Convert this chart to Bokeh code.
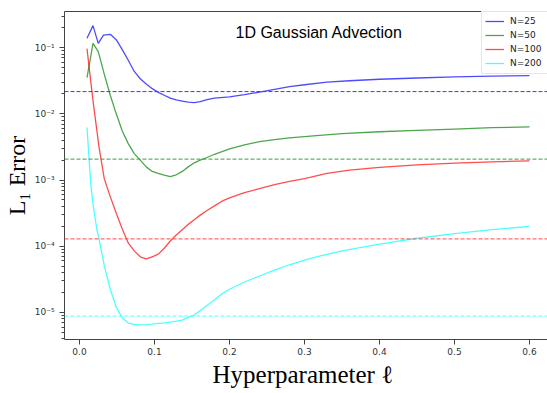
from bokeh.plotting import figure
from bokeh.models import (Span, Label, LinearAxis, FixedTicker, PrintfTickFormatter,
                          CustomJSTickFormatter, LogTicker)
from bokeh.embed import file_html
from bokeh.resources import INLINE

# ---- data ----
x_n25 = [0.01, 0.018, 0.025, 0.032, 0.041, 0.049, 0.057, 0.065, 0.073, 0.081, 0.089, 0.097,
         0.105, 0.113, 0.121, 0.129, 0.137, 0.145, 0.153, 0.161, 0.17, 0.18, 0.2, 0.22, 0.24,
         0.26, 0.28, 0.3, 0.33, 0.36, 0.4, 0.45, 0.5, 0.55, 0.6]
err_n25 = [0.139, 0.215, 0.116, 0.154, 0.159, 0.132, 0.0933, 0.0646, 0.0437, 0.0339, 0.0282,
           0.0240, 0.0211, 0.0191, 0.0173, 0.0162, 0.0156, 0.0150, 0.0148, 0.0153, 0.0164,
           0.0173, 0.0181, 0.0195, 0.0213, 0.0234, 0.0257, 0.0275, 0.0302, 0.0316, 0.0333,
           0.0348, 0.0361, 0.0370, 0.0378]

x_n50 = [0.01, 0.018, 0.025, 0.033, 0.041, 0.049, 0.057, 0.065, 0.073, 0.081, 0.089, 0.097,
         0.105, 0.113, 0.121, 0.129, 0.137, 0.145, 0.153, 0.161, 0.17, 0.18, 0.2, 0.22, 0.24,
         0.26, 0.28, 0.3, 0.32, 0.35, 0.4, 0.45, 0.5, 0.55, 0.6]
err_n50 = [0.0353, 0.116, 0.0871, 0.0398, 0.0191, 0.0100, 0.00550, 0.00355, 0.00251, 0.00200,
           0.00158, 0.00135, 0.00126, 0.00119, 0.00113, 0.00120, 0.00135, 0.00158, 0.00182,
           0.00200, 0.00219, 0.00245, 0.00295, 0.00339, 0.00380, 0.00407, 0.00432, 0.00452,
           0.00473, 0.00501, 0.00536, 0.00562, 0.00589, 0.00617, 0.00637]

x_n100 = [0.01, 0.018, 0.026, 0.033, 0.041, 0.049, 0.057, 0.065, 0.073, 0.081, 0.089, 0.097,
          0.105, 0.113, 0.121, 0.129, 0.137, 0.145, 0.153, 0.161, 0.17, 0.18, 0.19, 0.2, 0.22,
          0.24, 0.26, 0.28, 0.3, 0.33, 0.36, 0.4, 0.45, 0.5, 0.55, 0.6]
err_n100 = [0.0966, 0.0157, 0.00316, 0.00105, 5.62e-4, 3.16e-4, 1.82e-4, 1.12e-4, 8.51e-5,
            6.92e-5, 6.43e-5, 6.92e-5, 7.59e-5, 9.33e-5, 1.20e-4, 1.48e-4, 1.78e-4, 2.14e-4,
            2.51e-4, 2.95e-4, 3.47e-4, 4.07e-4, 4.79e-4, 5.37e-4, 6.46e-4, 7.41e-4, 8.51e-4,
            9.55e-4, 1.05e-3, 1.26e-3, 1.41e-3, 1.55e-3, 1.70e-3, 1.80e-3, 1.88e-3, 1.95e-3]

x_n200 = [0.01, 0.015, 0.018, 0.023, 0.026, 0.033, 0.041, 0.049, 0.057, 0.065, 0.073, 0.081,
          0.089, 0.097, 0.105, 0.113, 0.121, 0.129, 0.137, 0.145, 0.153, 0.161, 0.17, 0.18,
          0.19, 0.2, 0.22, 0.24, 0.26, 0.28, 0.3, 0.32, 0.35, 0.4, 0.45, 0.5, 0.55, 0.6]
err_n200 = [6.21e-3, 8.71e-4, 4.37e-4, 1.82e-4, 1.29e-4, 5.13e-5, 2.24e-5, 1.20e-5, 8.32e-6,
            6.92e-6, 6.61e-6, 6.50e-6, 6.53e-6, 6.68e-6, 6.84e-6, 6.97e-6, 7.16e-6, 7.41e-6,
            7.67e-6, 8.41e-6, 9.12e-6, 1.07e-5, 1.27e-5, 1.55e-5, 1.91e-5, 2.24e-5, 2.88e-5,
            3.55e-5, 4.37e-5, 5.25e-5, 6.17e-5, 7.08e-5, 8.51e-5, 1.08e-4, 1.32e-4, 1.55e-4,
            1.78e-4, 2.00e-4]

series_labels = ["N=25", "N=50", "N=100", "N=200"]
series_colors = ["blue", "green", "red", "cyan"]
ref_colors = ["#3a3aff", "#3d9a3d", "#ff4a4a", "#55ffff"]
ref_levels = [0.0217, 0.00207, 1.29e-4, 8.8e-6]   # dashed reference lines

x_ticks = [0.0, 0.1, 0.2, 0.3, 0.4, 0.5, 0.6]
title_text = "1D Gaussian Advection"
x_label = "Hyperparameter  \u2113"
y_label = "L\u2081 Error"

# ---- figure ----
p = figure(width=547, height=393, x_range=(-0.02, 0.624), y_range=(3.9e-6, 0.3515),
           y_axis_type="log", output_backend="svg", toolbar_location=None,
           min_border_left=64, min_border_right=0, min_border_top=11, min_border_bottom=54)
p.outline_line_color = None
p.xgrid.grid_line_color = None
p.ygrid.grid_line_color = None
p.background_fill_color = "white"
p.border_fill_color = "white"

xs = [x_n25, x_n50, x_n100, x_n200]
ys = [err_n25, err_n50, err_n100, err_n200]
for xv, yv, lab, col in zip(xs, ys, series_labels, series_colors):
    p.line(xv, yv, line_color=col, line_alpha=0.7, line_width=1.3, legend_label=lab)

for lvl, col in zip(ref_levels, ref_colors):
    p.add_layout(Span(location=lvl, dimension="width", line_color=col, line_alpha=1.0,
                      line_width=1.0, line_dash="4 2"))

p.add_layout(Label(x=0.208, y=0.168, text=title_text, text_font="Liberation Sans",
                   text_font_size="16px", text_color="black", text_baseline="alphabetic",
                   text_align="left"))

axis_col = "#444444"
tick_col = "#333333"

# x axis
xa = p.xaxis[0]
xa.ticker = FixedTicker(ticks=x_ticks)
xa.formatter = PrintfTickFormatter(format="%.1f")
xa.minor_tick_line_color = None
xa.axis_label = x_label

# y axis
ya = p.yaxis[0]
ya.ticker = LogTicker(num_minor_ticks=10)
ya.formatter = CustomJSTickFormatter(code="""
const e = Math.round(Math.log10(tick));
const sup = {'-':'\u207b','0':'\u2070','1':'\u00b9','2':'\u00b2','3':'\u00b3','4':'\u2074',
             '5':'\u2075','6':'\u2076','7':'\u2077','8':'\u2078','9':'\u2079'};
return '10' + String(e).split('').map(c => sup[c]).join('');
""")
ya.axis_label = y_label

for ax in (xa, ya):
    ax.axis_line_color = axis_col
    ax.axis_line_width = 1
    ax.major_tick_line_color = axis_col
    ax.major_tick_out = 5
    ax.major_tick_in = 0
    ax.minor_tick_out = 3
    ax.minor_tick_in = 0
    ax.major_label_text_font = "DejaVu Sans"
    ax.major_label_text_font_size = "9px"
    ax.major_label_text_color = tick_col
    ax.axis_label_text_font = "Liberation Serif"
    ax.axis_label_text_font_style = "normal"
    ax.axis_label_text_color = "black"
ya.minor_tick_line_color = axis_col
xa.major_label_standoff = 3
ya.major_label_standoff = 5
xa.axis_label_text_font_size = "25px"
ya.axis_label_text_font_size = "24px"
xa.axis_label_standoff = 3
ya.axis_label_standoff = 2

# top spine
top = LinearAxis(ticker=FixedTicker(ticks=[]), major_tick_line_color=None,
                 minor_tick_line_color=None, axis_line_color=axis_col)
p.add_layout(top, "above")

# legend
lg = p.legend[0]
lg.location = (417, 265)
lg.margin = 0
lg.padding = 3
lg.spacing = 0
lg.glyph_width = 19
lg.glyph_height = 14
lg.label_height = 14
lg.label_width = 40
lg.label_standoff = 6
lg.label_text_font = "DejaVu Sans"
lg.label_text_font_size = "9px"
lg.label_text_color = "#222222"
lg.border_line_color = "#cccccc"
lg.border_line_width = 1
lg.background_fill_alpha = 0.85

open("out.html", "w").write(file_html(p, INLINE))
